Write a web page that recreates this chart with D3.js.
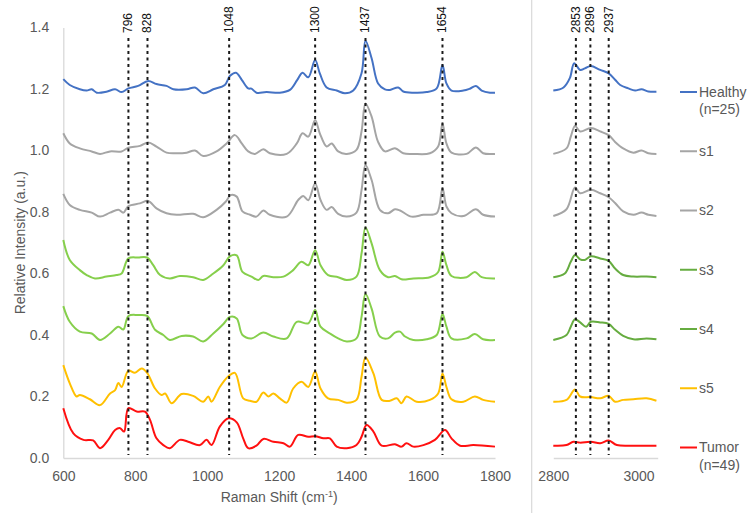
<!DOCTYPE html>
<html>
<head>
<meta charset="utf-8">
<script src="https://cdn.jsdelivr.net/npm/d3@7"></script>
<style>
  body { margin: 0; background: #fff; }
  svg { font-family: "Liberation Sans", Arial, sans-serif; }
</style>
</head>
<body>
<svg id="chart"></svg>
<script>
// peak annotations: label text and where the dashed line is drawn
const peakLabelsL = ["796", "828", "1048", "1300", "1437", "1654"];
const peakPosL = [781, 834, 1061, 1300, 1440, 1654];
const peakLabelsR = ["2853", "2896", "2937"];
const peakPosR = [2853, 2887, 2930];

const yTicks = [0, 0.2, 0.4, 0.6, 0.8, 1.0, 1.2, 1.4];
const xTicksL = [600, 800, 1000, 1200, 1400, 1600, 1800];
const xTicksR = [2800, 3000];

const seriesNames = ["Healthy", "s1", "s2", "s3", "s4", "s5", "Tumor"];
const seriesSub = ["(n=25)", "", "", "", "", "", "(n=49)"];

// [wavenumber, relative intensity]
const healthyL = [[600,1.232],[618,1.213],[646,1.199],[665,1.195],[679,1.199],[693,1.188],[720,1.191],[744,1.199],[762,1.190],[781,1.202],[808,1.210],[836,1.226],[859,1.216],[887,1.210],[906,1.199],[943,1.199],[966,1.205],[989,1.186],[1017,1.199],[1049,1.213],[1063,1.242],[1080,1.253],[1096,1.230],[1114,1.202],[1123,1.201],[1137,1.188],[1165,1.190],[1202,1.188],[1230,1.197],[1250,1.229],[1265,1.253],[1281,1.238],[1300,1.294],[1313,1.251],[1332,1.205],[1360,1.195],[1383,1.186],[1406,1.195],[1429,1.251],[1440,1.357],[1457,1.300],[1475,1.218],[1494,1.199],[1508,1.197],[1531,1.205],[1545,1.192],[1573,1.188],[1610,1.190],[1638,1.202],[1654,1.278],[1665,1.218],[1679,1.195],[1712,1.195],[1730,1.201],[1747,1.210],[1763,1.195],[1786,1.188],[1800,1.188]];
const healthyR = [[2800,1.195],[2824,1.205],[2839,1.236],[2849,1.284],[2863,1.262],[2874,1.267],[2888,1.275],[2910,1.262],[2930,1.251],[2945,1.230],[2957,1.213],[2976,1.202],[2992,1.195],[3007,1.199],[3023,1.192],[3042,1.191]];

const s1L = [[600,1.056],[618,1.023],[646,1.007],[679,0.997],[702,0.989],[730,0.997],[762,0.997],[781,1.009],[813,1.015],[836,1.026],[859,1.013],[887,0.993],[915,0.991],[943,0.993],[966,1.000],[989,0.982],[1026,0.997],[1054,1.023],[1077,1.050],[1096,1.023],[1114,0.997],[1133,0.989],[1156,1.004],[1174,0.991],[1221,0.989],[1249,1.023],[1265,1.056],[1281,1.045],[1300,1.099],[1313,1.056],[1332,1.013],[1346,1.023],[1364,0.997],[1388,0.989],[1415,1.002],[1429,1.062],[1440,1.153],[1457,1.110],[1475,1.028],[1494,0.997],[1522,1.007],[1545,0.991],[1573,0.989],[1619,0.991],[1642,1.013],[1654,1.088],[1665,1.023],[1679,0.993],[1721,0.989],[1747,1.010],[1767,0.991],[1800,0.989]];
const s1R = [[2800,0.989],[2831,1.007],[2841,1.045],[2851,1.080],[2863,1.062],[2888,1.073],[2910,1.062],[2930,1.050],[2945,1.028],[2964,1.007],[2988,0.993],[3007,1.000],[3023,0.991],[3042,0.989]];

const s2L = [[600,0.859],[618,0.823],[646,0.807],[679,0.798],[702,0.785],[730,0.798],[753,0.807],[767,0.798],[781,0.819],[813,0.828],[836,0.836],[859,0.812],[887,0.796],[915,0.791],[961,0.794],[989,0.783],[1026,0.807],[1052,0.834],[1065,0.855],[1082,0.850],[1098,0.802],[1119,0.791],[1137,0.785],[1156,0.805],[1174,0.791],[1221,0.785],[1253,0.839],[1267,0.852],[1281,0.838],[1300,0.893],[1315,0.839],[1332,0.807],[1346,0.816],[1364,0.794],[1388,0.785],[1415,0.798],[1429,0.871],[1440,0.953],[1457,0.904],[1480,0.807],[1503,0.796],[1522,0.809],[1536,0.805],[1568,0.785],[1601,0.791],[1638,0.796],[1654,0.877],[1665,0.818],[1679,0.796],[1712,0.787],[1747,0.809],[1767,0.791],[1800,0.785]];
const s2R = [[2800,0.787],[2831,0.809],[2851,0.880],[2863,0.861],[2888,0.872],[2910,0.861],[2930,0.848],[2945,0.829],[2964,0.802],[2988,0.791],[3007,0.798],[3023,0.791],[3042,0.787]];

const s3L = [[600,0.709],[618,0.644],[646,0.611],[665,0.595],[688,0.584],[720,0.590],[748,0.595],[762,0.600],[781,0.649],[808,0.652],[833,0.652],[850,0.627],[869,0.595],[896,0.584],[924,0.592],[961,0.588],[989,0.579],[1017,0.600],[1045,0.627],[1063,0.656],[1082,0.659],[1098,0.605],[1123,0.590],[1142,0.579],[1156,0.592],[1184,0.588],[1212,0.590],[1239,0.611],[1262,0.638],[1281,0.627],[1300,0.676],[1315,0.627],[1336,0.595],[1364,0.588],[1388,0.579],[1415,0.590],[1429,0.665],[1440,0.750],[1457,0.698],[1480,0.611],[1503,0.588],[1522,0.592],[1540,0.581],[1573,0.584],[1619,0.588],[1642,0.605],[1654,0.671],[1665,0.627],[1679,0.592],[1721,0.588],[1744,0.605],[1763,0.588],[1800,0.584]];
const s3R = [[2800,0.588],[2827,0.600],[2841,0.638],[2851,0.660],[2863,0.646],[2874,0.644],[2888,0.656],[2910,0.649],[2930,0.641],[2945,0.616],[2964,0.595],[2988,0.590],[3019,0.590],[3042,0.588]];

const s4L = [[600,0.494],[618,0.443],[646,0.411],[679,0.405],[702,0.384],[730,0.405],[753,0.427],[767,0.418],[781,0.462],[808,0.465],[833,0.462],[855,0.417],[878,0.400],[896,0.384],[929,0.397],[961,0.395],[989,0.379],[1017,0.405],[1045,0.436],[1063,0.459],[1082,0.454],[1098,0.400],[1123,0.389],[1156,0.408],[1184,0.395],[1221,0.389],[1249,0.443],[1281,0.438],[1300,0.481],[1315,0.427],[1341,0.405],[1364,0.389],[1388,0.379],[1415,0.389],[1429,0.459],[1440,0.533],[1457,0.486],[1480,0.395],[1503,0.389],[1522,0.408],[1536,0.411],[1550,0.395],[1573,0.384],[1610,0.386],[1638,0.400],[1654,0.468],[1665,0.427],[1679,0.389],[1721,0.389],[1744,0.403],[1767,0.386],[1800,0.384]];
const s4R = [[2800,0.384],[2831,0.400],[2841,0.427],[2851,0.451],[2863,0.441],[2877,0.427],[2888,0.443],[2910,0.441],[2930,0.436],[2945,0.417],[2964,0.397],[2988,0.386],[3019,0.389],[3042,0.386]];

const s5L = [[600,0.302],[618,0.243],[637,0.200],[646,0.205],[674,0.191],[702,0.172],[730,0.210],[744,0.221],[753,0.244],[762,0.231],[781,0.284],[799,0.277],[818,0.291],[833,0.277],[855,0.226],[873,0.205],[883,0.210],[901,0.178],[929,0.208],[961,0.202],[989,0.183],[1003,0.200],[1012,0.183],[1035,0.231],[1059,0.266],[1077,0.277],[1100,0.194],[1119,0.186],[1137,0.183],[1156,0.213],[1170,0.200],[1184,0.210],[1202,0.194],[1221,0.180],[1239,0.226],[1262,0.248],[1281,0.231],[1300,0.281],[1315,0.226],[1336,0.194],[1364,0.189],[1388,0.180],[1415,0.189],[1429,0.264],[1440,0.327],[1462,0.275],[1485,0.189],[1508,0.186],[1527,0.194],[1540,0.178],[1554,0.200],[1582,0.183],[1619,0.189],[1642,0.210],[1654,0.275],[1665,0.231],[1679,0.191],[1712,0.183],[1744,0.200],[1767,0.189],[1800,0.183]];
const s5R = [[2800,0.183],[2831,0.189],[2851,0.223],[2863,0.200],[2888,0.198],[2910,0.194],[2930,0.202],[2945,0.183],[2964,0.189],[2988,0.191],[3019,0.194],[3042,0.186]];

const tumorL = [[600,0.162],[628,0.080],[656,0.059],[683,0.057],[702,0.032],[725,0.059],[744,0.091],[758,0.097],[769,0.086],[781,0.162],[804,0.151],[827,0.151],[841,0.124],[859,0.064],[878,0.042],[896,0.032],[924,0.059],[947,0.053],[980,0.042],[998,0.059],[1012,0.042],[1035,0.102],[1059,0.129],[1082,0.116],[1100,0.064],[1114,0.032],[1137,0.040],[1156,0.062],[1184,0.053],[1212,0.048],[1230,0.037],[1253,0.075],[1281,0.069],[1300,0.071],[1323,0.064],[1341,0.064],[1360,0.037],[1388,0.032],[1415,0.042],[1429,0.069],[1443,0.107],[1462,0.086],[1485,0.040],[1522,0.045],[1540,0.037],[1554,0.048],[1573,0.037],[1601,0.042],[1633,0.059],[1661,0.091],[1679,0.064],[1703,0.040],[1740,0.042],[1800,0.037]];
const tumorR = [[2800,0.040],[2831,0.042],[2847,0.053],[2863,0.050],[2888,0.053],[2910,0.048],[2930,0.057],[2949,0.042],[2988,0.040],[3042,0.040]];

const leftSeries = [healthyL, s1L, s2L, s3L, s4L, s5L, tumorL];
const rightSeries = [healthyR, s1R, s2R, s3R, s4R, s5R, tumorR];
const colorsL = ["#4472C4", "#A5A5A5", "#A5A5A5", "#86CF4C", "#86CF4C", "#FFC000", "#FF1010"];
const colorsR = ["#4472C4", "#A5A5A5", "#A5A5A5", "#66AC40", "#66AC40", "#FFC000", "#FF1010"];

const width = 749, height = 513;
const svg = d3.select("#chart").attr("width", width).attr("height", height);

const y = d3.scaleLinear().domain([0, 1.4]).range([458, 27.5]);
const xL = d3.scaleLinear().domain([600, 1800]).range([63.3, 495]);
const xR = d3.scaleLinear().domain([2800, 3045]).range([553.3, 657.7]);

const textGray = "#595959", axisGray = "#d9d9d9";

// divider between the two panels
svg.append("line")
   .attr("x1", 531.7).attr("x2", 531.7)
   .attr("y1", 0).attr("y2", height)
   .attr("stroke", axisGray).attr("stroke-width", 1.2);

function styleAxis(g){
  g.select(".domain").attr("stroke", axisGray).attr("stroke-width", 1.3);
  g.selectAll("text").attr("fill", textGray).style("font-size", "14px")
   .style("font-family", "'Liberation Sans', Arial, sans-serif");
}

svg.append("g")
   .attr("transform", "translate(" + xL.range()[0] + ",0)")
   .call(d3.axisLeft(y).tickValues(yTicks).tickFormat(d3.format(".1f")).tickSize(0).tickPadding(14))
   .call(styleAxis);

svg.append("g")
   .attr("transform", "translate(0," + y(0) + ")")
   .call(d3.axisBottom(xL).tickValues(xTicksL).tickFormat(d3.format("d")).tickSize(0).tickPadding(13))
   .call(styleAxis);

svg.append("g")
   .attr("transform", "translate(0," + y(0) + ")")
   .call(d3.axisBottom(xR).tickValues(xTicksR).tickFormat(d3.format("d")).tickSize(0).tickPadding(13))
   .call(styleAxis);

// axis titles
svg.append("text")
   .attr("transform", "translate(20," + ((y(0) + y(1.4)) / 2) + ") rotate(-90)")
   .attr("text-anchor", "middle").attr("dominant-baseline", "central")
   .attr("fill", textGray).style("font-size", "14px")
   .text("Relative Intensity (a.u.)");

const xTitle = svg.append("text")
   .attr("x", (xL.range()[0] + xL.range()[1]) / 2).attr("y", 502)
   .attr("text-anchor", "middle")
   .attr("fill", textGray).style("font-size", "14px");
xTitle.append("tspan").text("Raman Shift (cm");
xTitle.append("tspan").attr("dy", -5).style("font-size", "9px").text("-1");
xTitle.append("tspan").attr("dy", 5).text(")");

// dashed peak markers
function drawPeaks(x, pos, labels){
  svg.selectAll(null).data(pos).enter().append("line")
     .attr("x1", d => x(d)).attr("x2", d => x(d))
     .attr("y1", 38).attr("y2", 455)
     .attr("stroke", "#1a1a1a").attr("stroke-width", 2)
     .attr("stroke-dasharray", "3,3.5");
  svg.selectAll(null).data(pos).enter().append("text")
     .attr("transform", d => "translate(" + x(d) + ",33) rotate(-90)")
     .attr("text-anchor", "start").attr("dominant-baseline", "central")
     .attr("fill", "#111").style("font-size", "12px")
     .text((d, i) => labels[i]);
}

// curves
function drawLines(x, list, colors){
  const line = d3.line().x(d => x(d[0])).y(d => y(d[1])).curve(d3.curveCatmullRom.alpha(0.5));
  svg.selectAll(null).data(list).enter().append("path")
     .attr("d", line)
     .attr("fill", "none")
     .attr("stroke", (d, i) => colors[i])
     .attr("stroke-width", 2)
     .attr("stroke-linejoin", "round");
}

drawLines(xL, leftSeries, colorsL);
drawLines(xR, rightSeries, colorsR);
drawPeaks(xL, peakPosL, peakLabelsL);
drawPeaks(xR, peakPosR, peakLabelsR);

// legend
const legendY = d3.scaleLinear().domain([0, 6]).range([92, 447.5]);
const legend = svg.selectAll(".leg").data(seriesNames).enter().append("g")
   .attr("class", "leg")
   .attr("transform", (d, i) => "translate(680," + legendY(i) + ")");
legend.append("line")
   .attr("x1", 0).attr("x2", 17)
   .attr("stroke", (d, i) => colorsR[i]).attr("stroke-width", 2);
legend.append("text")
   .attr("x", 19).attr("dy", "0.35em")
   .attr("fill", textGray).style("font-size", "14px")
   .text(d => d);
legend.append("text")
   .attr("x", 19).attr("dy", "1.6em")
   .attr("fill", textGray).style("font-size", "14px")
   .text((d, i) => seriesSub[i]);
</script>
</body>
</html>
